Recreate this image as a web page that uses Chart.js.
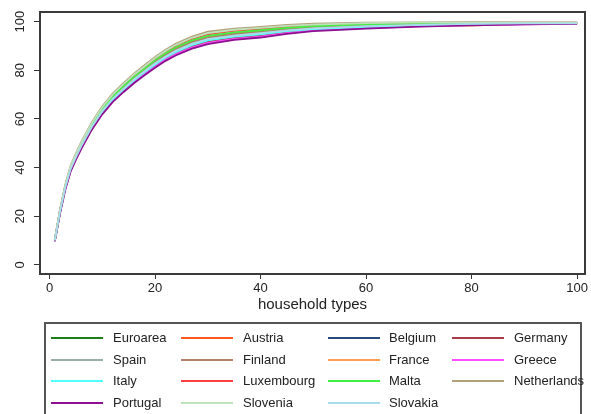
<!DOCTYPE html>
<html>
<head>
<meta charset="utf-8">
<script src="https://cdn.jsdelivr.net/npm/chart.js@4/dist/chart.umd.min.js"></script>
<style>
  html, body { margin: 0; padding: 0; background: #fff; }
  #wrap { position: relative; width: 591px; height: 414px; overflow: hidden; background: #fff; }
  #c { position: absolute; left: 0; top: 0; }
  #legend { position: absolute; left: 44px; top: 322px; width: 538px; height: 110px; border: 2px solid #555; box-sizing: border-box; }
  .li { position: absolute; height: 2px; width: 52px; }
  .lt { position: absolute; font-family: "Liberation Sans", Arial, sans-serif; font-size: 13px; color: #222; line-height: 16px; white-space: nowrap; }
</style>
</head>
<body>
<div id="wrap">
  <canvas id="c" width="591" height="414"></canvas>
  <div id="legend"></div>
</div>
<script>
// household types (x positions sampled)
const householdTypes = [1,2,3,4,5,6,8,10,12,14,16,18,20,22,24,27,30,35,40,45,50,60,70,80,90,100];
const xTickValues = [0,20,40,60,80,100];
const yTickValues = [0,20,40,60,80,100];

const euroarea    = [9.8,21.6,31.5,38.9,43.9,48.3,56.2,62.7,67.8,71.9,75.6,79.0,82.2,85.1,87.4,90.2,92.0,93.6,94.6,95.9,96.8,97.8,98.4,98.9,99.1,99.3];
const austria     = [10.1,22.2,32.2,39.7,44.8,49.3,57.3,63.8,69.1,73.2,77.0,80.4,83.7,86.7,89.1,91.9,93.8,95.3,96.1,97.2,97.9,98.7,99.1,99.3,99.5,99.5];
const belgium     = [10.0,21.9,31.9,39.4,44.4,48.9,56.8,63.3,68.5,72.6,76.4,79.8,83.1,86.0,88.4,91.2,93.0,94.6,95.5,96.6,97.4,98.3,98.8,99.1,99.3,99.4];
const germany     = [9.7,21.5,31.4,38.8,43.7,48.1,56.0,62.4,67.6,71.6,75.4,78.7,81.9,84.7,87.1,89.8,91.7,93.3,94.3,95.6,96.6,97.6,98.3,98.8,99.0,99.2];
const spain       = [10.0,22.0,32.0,39.5,44.5,49.0,57.0,63.5,68.7,72.8,76.6,80.0,83.3,86.2,88.6,91.4,93.3,94.8,95.7,96.8,97.6,98.4,98.9,99.2,99.3,99.4];
const finland     = [10.0,22.1,32.1,39.6,44.6,49.1,57.2,63.7,68.9,73.0,76.8,80.2,83.5,86.4,88.8,91.7,93.6,95.0,95.9,97.0,97.8,98.5,99.0,99.3,99.4,99.4];
const france      = [9.9,21.8,31.7,39.2,44.1,48.6,56.5,63.0,68.2,72.2,76.0,79.4,82.6,85.5,87.9,90.7,92.5,94.1,95.0,96.2,97.1,98.0,98.6,98.4,99.2,99.3];
const greece      = [9.7,21.4,31.2,38.6,43.5,47.9,55.8,62.2,67.3,71.3,75.0,78.4,81.5,84.4,86.7,89.4,91.3,92.9,93.9,95.3,96.4,97.4,98.1,98.6,98.9,99.2];
const italy       = [9.8,21.7,31.6,39.0,44.0,48.4,56.4,62.8,68.0,72.1,75.8,79.2,82.4,85.3,87.6,90.4,92.3,93.9,94.8,96.1,97.0,97.9,98.5,98.9,99.2,99.3];
const luxembourg  = [10.2,22.5,32.6,40.2,45.3,49.8,57.9,64.5,69.8,73.9,77.8,81.2,84.6,87.6,90.0,92.9,94.8,96.2,97.0,97.9,98.5,99.2,99.5,99.6,99.6,99.6];
const malta       = [10.1,22.3,32.4,39.9,45.0,49.5,57.6,64.1,69.3,73.5,77.3,80.7,84.1,87.0,89.5,92.3,94.2,95.6,96.5,97.5,98.2,98.9,99.2,99.5,99.5,99.5];
const netherlands = [10.4,22.8,33.0,40.7,45.8,50.4,58.6,65.2,70.5,74.7,78.6,82.1,85.5,88.5,91.0,93.9,95.9,97.2,97.9,98.7,99.2,99.6,99.7,99.8,99.7,99.7];
const portugal    = [9.6,21.3,31.0,38.4,43.2,47.6,55.5,61.9,67.0,71.0,74.7,78.0,81.1,83.9,86.2,88.9,90.8,92.5,93.5,95.0,96.1,97.2,98.0,98.5,98.9,99.1];
const slovenia    = [10.3,22.6,32.8,40.4,45.5,50.1,58.2,64.8,70.1,74.3,78.2,81.6,85.1,88.0,90.5,93.4,95.3,96.7,97.5,98.3,98.8,99.4,99.7,99.6,99.6,99.6];
const slovakia    = [9.9,21.9,31.8,39.3,44.2,48.7,56.7,63.2,68.4,72.4,76.2,79.6,82.9,85.7,88.1,90.9,92.8,94.3,95.3,96.4,97.3,98.2,98.7,99.1,99.3,99.3];

const seriesNames  = ['Euroarea','Austria','Belgium','Germany','Spain','Finland','France','Greece','Italy','Luxembourg','Malta','Netherlands','Portugal','Slovenia','Slovakia'];
const seriesValues = [euroarea,austria,belgium,germany,spain,finland,france,greece,italy,luxembourg,malta,netherlands,portugal,slovenia,slovakia];
const seriesColors = ['#1a7f1a','#ff5a1e','#2a4a7a','#a83a4a','#9aaea4','#b08068','#ffa050','#ff50ff','#50ffff','#ff4040','#40f040','#b4a078','#8e1090','#bde3bd','#a8dcea'];

const FONT = '"Liberation Sans", Arial, sans-serif';
const n = seriesNames.length;
const datasets = seriesNames.map((name, i) => ({
  label: name,
  data: householdTypes.map((x, k) => ({x: x, y: seriesValues[i][k]})),
  borderColor: seriesColors[i],
  backgroundColor: seriesColors[i],
  borderWidth: 1.8,
  pointRadius: 0,
  tension: 0,
  fill: false,
  order: n - 1 - i
}));

const boxPlugin = {
  id: 'box',
  afterDatasetsDraw(chart) {
    const {ctx, chartArea: a} = chart;
    ctx.save();
    ctx.strokeStyle = '#3a3a3a';
    ctx.lineWidth = 2;
    ctx.strokeRect(a.left, a.top, a.right - a.left, a.bottom - a.top);
    ctx.restore();
  }
};

new Chart(document.getElementById('c'), {
  type: 'line',
  data: { datasets },
  plugins: [boxPlugin],
  options: {
    responsive: false,
    animation: false,
    devicePixelRatio: 1,
    layout: { padding: { top: 12, right: 6, left: 0, bottom: 100 } },
    plugins: { legend: { display: false }, tooltip: { enabled: false } },
    scales: {
      x: {
        type: 'linear', min: -1.8, max: 101.5,
        afterFit(s) { s.height = 40; },
        afterBuildTicks(s) { s.ticks = xTickValues.map(v => ({value: v})); },
        ticks: { font: { family: FONT, size: 13 }, color: '#222', padding: 2, maxRotation: 0, autoSkip: false },
        grid: { display: true, drawOnChartArea: false, drawTicks: true, tickLength: 5, color: '#333', lineWidth: 1 },
        border: { display: false },
        title: { display: true, text: 'household types', font: { family: FONT, size: 15 }, color: '#222', padding: 0 }
      },
      y: {
        type: 'linear', min: -3.8, max: 104,
        afterFit(s) { s.width = 40; },
        afterBuildTicks(s) { s.ticks = yTickValues.map(v => ({value: v})); },
        ticks: { font: { family: FONT, size: 13 }, color: '#222', padding: 3, minRotation: 90, maxRotation: 90, crossAlign: 'center', autoSkip: false },
        grid: { display: true, drawOnChartArea: false, drawTicks: true, tickLength: 6, color: '#333', lineWidth: 1 },
        border: { display: false }
      }
    }
  }
});

// legend (HTML, real text)
const legend = document.getElementById('legend');
const colLine = [51, 181, 328, 452];
const colText = [113, 243, 389, 514];
const rowY = [338, 359.5, 381, 402.5];
seriesNames.forEach((name, i) => {
  const r = Math.floor(i / 4), c = i % 4;
  const line = document.createElement('div');
  line.className = 'li';
  line.style.left = (colLine[c] - 44 - 2) + 'px';
  line.style.top = (rowY[r] - 322 - 2 - 1) + 'px';
  line.style.background = seriesColors[i];
  legend.appendChild(line);
  const t = document.createElement('div');
  t.className = 'lt';
  t.textContent = name;
  t.style.left = (colText[c] - 44 - 2) + 'px';
  t.style.top = (rowY[r] - 322 - 2 - 8) + 'px';
  legend.appendChild(t);
});
</script>
</body>
</html>
